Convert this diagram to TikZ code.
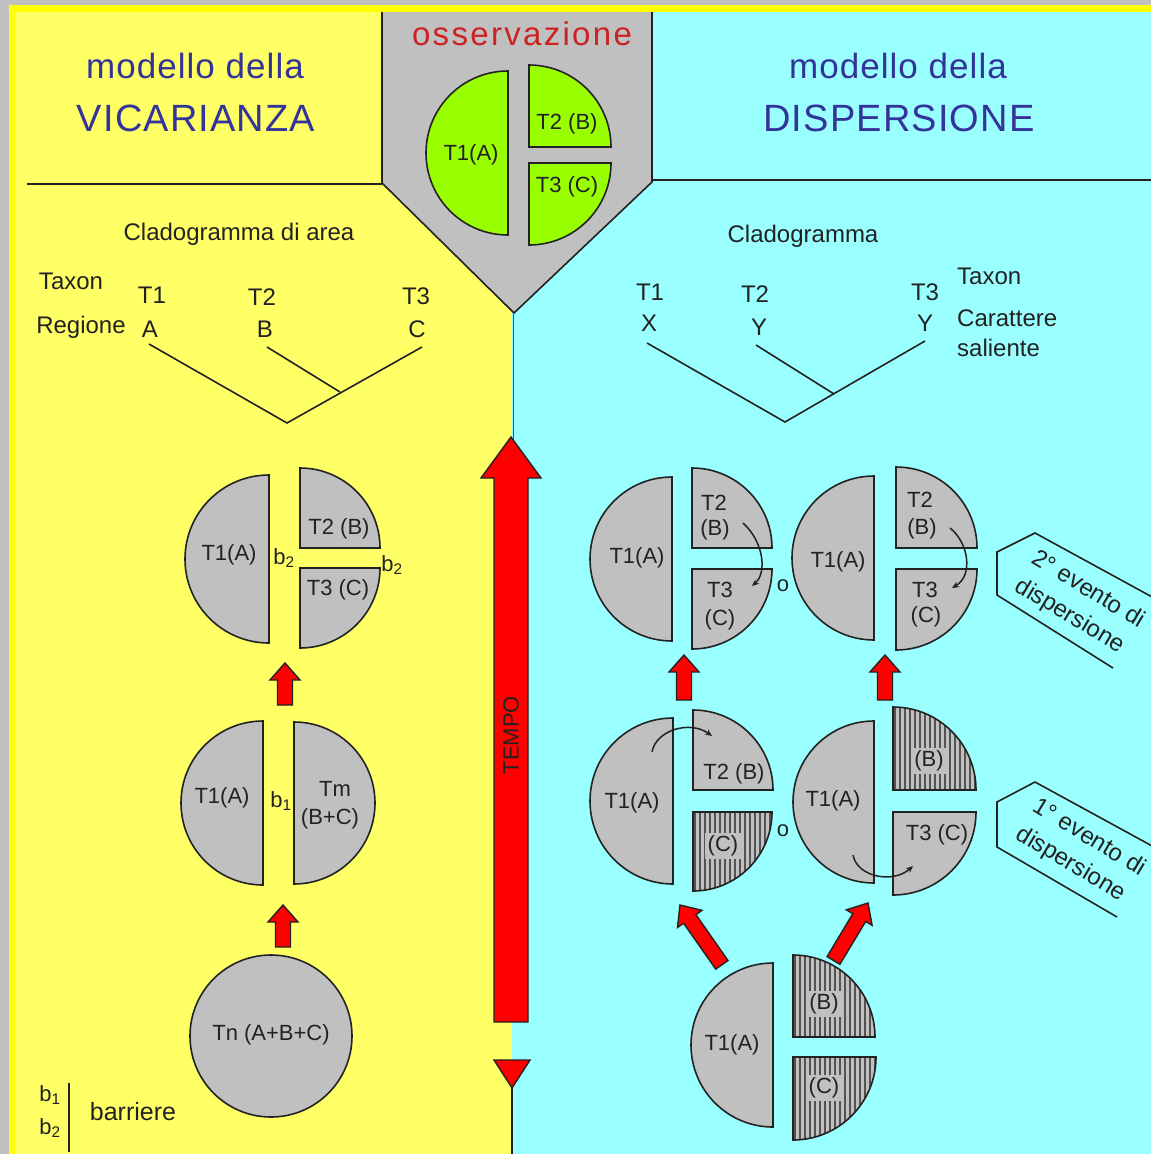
\documentclass[tikz,border=0pt]{standalone}
\usepackage{fontspec}
\setmainfont{Liberation Sans}
\newfontfamily\titlefont[LetterSpace=3]{Liberation Sans}
\newfontfamily\obsfont[LetterSpace=7]{Liberation Sans}
\usetikzlibrary{patterns.meta,arrows.meta}
\definecolor{paleY}{HTML}{FFFF66}
\definecolor{cyanB}{HTML}{99FFFF}
\definecolor{grayB}{HTML}{C0C0C0}
\definecolor{brightY}{HTML}{FFFF00}
\definecolor{greenO}{HTML}{99FF00}
\definecolor{titleB}{HTML}{333399}
\definecolor{obsR}{HTML}{CC2222}
\definecolor{inkD}{HTML}{222222}
\newcommand\semiL[4][piece]{\draw[#1] (#2,-#3+#4) arc (90:270:#4) -- cycle;}
\newcommand\semiR[4][piece]{\draw[#1] (#2,-#3+#4) arc (90:-90:#4) -- cycle;}
\newcommand\quadTR[4][piece]{\draw[#1] (#2,-#3) -- (#2,-#3+#4) arc (90:0:#4) -- cycle;}
\newcommand\quadBR[4][piece]{\draw[#1] (#2,-#3) -- (#2+#4,-#3) arc (0:-90:#4) -- cycle;}
\tikzset{pics/redarr/.style={code={\draw[redarrow] (0,0) -- (15,-17) -- (7.5,-17) -- (7.5,-#1) -- (-7.5,-#1) -- (-7.5,-17) -- (-15,-17) -- cycle;}}}
\begin{document}
\begin{tikzpicture}[x=1pt,y=1pt,
 edge/.style={draw=inkD, line width=1.6pt},
 piece/.style={draw=inkD, line width=1.6pt, fill=grayB},
 gpiece/.style={draw=inkD, line width=1.6pt, fill=greenO},
 hpiece/.style={preaction={fill=grayB}, pattern={Lines[angle=90,distance=5pt,line width=1.2pt]}, pattern color=gray!65!black, draw=inkD, line width=1.6pt},
 lbl/.style={font=\fontsize{22}{24}\selectfont, text=inkD, inner sep=1pt},
 hlbl/.style={lbl, fill=grayB, inner sep=3pt},
 clado/.style={font=\fontsize{24}{26}\selectfont, text=inkD, inner sep=1pt},
 title/.style={font=\titlefont\fontsize{35}{40}\selectfont, text=titleB, inner sep=0pt},
 titleC/.style={font=\titlefont\fontsize{38}{40}\selectfont, text=titleB, inner sep=0pt},
 obsstyle/.style={font=\obsfont\fontsize{33}{36}\selectfont, text=obsR, inner sep=0pt},
 branch/.style={draw=inkD, line width=1.6pt},
 redarrow/.style={draw=inkD, line width=1.4pt, fill=red},
 curv/.style={draw=inkD, line width=1.5pt, -{Stealth[length=7pt,width=6pt]}},
 calltext/.style={font=\fontsize{24}{32}\selectfont, text=inkD, inner sep=0pt, align=left},
]
\useasboundingbox (0,0) rectangle (1151,-1154);
\clip (0,0) rectangle (1151,-1154);
% background
\fill[grayB] (0,0) rectangle (1151,-1154);
\fill[brightY] (9,-5) rectangle (1151,-1154);
\fill[paleY] (15,-12) rectangle (512,-1154);
\fill[cyanB] (512,-12) rectangle (1151,-1154);
% observation pentagon
\fill[grayB] (382,-12) -- (652,-12) -- (652,-182) -- (514,-313) -- (382,-183) -- cycle;
\draw[edge] (382,-12) -- (382,-183) -- (514,-313) -- (652,-182) -- (652,-12);
\draw[gray!60!black, line width=1pt] (513,-313) -- (513,-440);
\draw[edge] (27,-184) -- (382,-184);
\draw[edge] (652,-180) -- (1151,-180);
% titles
\node[title, anchor=base] (vtitle1) at (195,-78) {modello della};
\node[titleC, anchor=base] (vtitle2) at (196,-131) {VICARIANZA};
\node[title, anchor=base] (dtitle1) at (898,-78) {modello della};
\node[titleC, anchor=base] (dtitle2) at (899,-131) {DISPERSIONE};
\node[obsstyle, anchor=base] (obs) at (522,-45) {osservazione};
% observed areas
\semiL[gpiece]{508}{153}{82}
\quadTR[gpiece]{529}{147}{82}
\quadBR[gpiece]{529}{163}{82}
\node[lbl] (oA) at (471,-155) {T1(A)};
\node[lbl] (oB) at (567,-124) {T2 (B)};
\node[lbl] (oC) at (567,-187) {T3 (C)};
% left cladogram
\node[clado] (cladoL) at (239,-234) {Cladogramma di area};
\node[clado] (taxL) at (71,-281) {Taxon};
\node[clado] (regL) at (81,-327) {Regione};
\node[clado] (t1L) at (152,-295) {T1};
\node[clado] (t2L) at (262,-297) {T2};
\node[clado] (t3L) at (416,-296) {T3};
\node[clado] (aL) at (150,-329) {A};
\node[clado] (bL) at (265,-329) {B};
\node[clado] (cL) at (417,-329) {C};
\coordinate (la) at (149,-344);
\coordinate (lb) at (267,-347);
\coordinate (lc) at (422,-347);
\coordinate (lj) at (340,-392);
\coordinate (lr) at (287,-423);
\draw[branch] (la) -- (lr) -- (lc);
\draw[branch] (lb) -- (lj);
% right cladogram
\node[clado] (cladoR) at (803,-236) {Cladogramma};
\node[clado] (t1R) at (650,-292) {T1};
\node[clado] (t2R) at (755,-294) {T2};
\node[clado] (t3R) at (925,-292) {T3};
\node[clado, anchor=west] (taxR) at (956,-276) {Taxon};
\node[clado] (xR) at (649,-323) {X};
\node[clado] (y1R) at (759,-327) {Y};
\node[clado] (y2R) at (925,-323) {Y};
\node[clado, anchor=west] (carR) at (956,-318) {Carattere};
\node[clado, anchor=west] (salR) at (956,-348) {saliente};
\coordinate (rx) at (647,-343);
\coordinate (ry1) at (756,-345);
\coordinate (ry2) at (925,-341);
\coordinate (rj) at (834,-394);
\coordinate (rr) at (785,-422);
\draw[branch] (rx) -- (rr) -- (ry2);
\draw[branch] (ry1) -- (rj);
% left: vicariance stages
\semiL{269}{559}{84}
\quadTR{300}{548}{80}
\quadBR{300}{568}{80}
\node[lbl] (v3a) at (229,-555) {T1(A)};
\node[lbl] (v3b) at (339,-529) {T2 (B)};
\node[lbl] (v3c) at (338,-590) {T3 (C)};
\node[lbl] (v3b2a) at (284,-558) {b\textsubscript{2}};
\node[lbl] (v3b2b) at (392,-565) {b\textsubscript{2}};
\semiL{263}{803}{82}
\semiR{294}{803}{81}
\node[lbl] (v2a) at (222,-798) {T1(A)};
\node[lbl] (v2b1) at (281,-801) {b\textsubscript{1}};
\node[lbl] (v2m) at (335,-789) {Tm};
\node[lbl] (v2bc) at (330,-819) {(B+C)};
\draw[piece] (271,-1036) circle (81);
\node[lbl] (v1) at (271,-1035) {Tn (A+B+C)};
\pic at (285,-663) {redarr=42};
\pic at (283,-905) {redarr=42};
% time arrow
\draw[redarrow] (511,-437) -- (541,-478) -- (528,-478) -- (528,-1022) -- (494,-1022) -- (494,-478) -- (481,-478) -- cycle;
\node[lbl, rotate=90] (tempo) at (511,-735) {TEMPO};
\draw[redarrow] (494,-1060) -- (530,-1060) -- (512,-1088) -- cycle;
\draw[edge] (512,-1088) -- (512,-1154);
% legend
\node[lbl] (lb1) at (50,-1095) {b\textsubscript{1}};
\node[lbl] (lb2) at (50,-1128) {b\textsubscript{2}};
\draw[edge] (69,-1083) -- (69,-1152);
\node[font=\fontsize{25}{27}\selectfont, text=inkD] (barr) at (133,-1112) {barriere};
% right: dispersion, top row
\semiL{672}{559}{82}
\quadTR{692}{548}{80}
\quadBR{692}{569}{80}
\node[lbl] (d1a) at (637,-558) {T1(A)};
\node[lbl] (d1b1) at (714,-503) {T2};
\node[lbl] (d1b2) at (715,-530) {(B)};
\node[lbl] (d1c1) at (720,-590) {T3};
\node[lbl] (d1c2) at (720,-620) {(C)};
\coordinate (c1s) at (743,-523);
\coordinate (c1e) at (752,-586);
\draw[curv] (c1s) .. controls (764,-542) and (767,-573) .. (c1e);
\node[lbl] (or1) at (783,-586) {o};
\semiL{874}{558}{82}
\quadTR{896}{548}{81}
\quadBR{896}{569}{81}
\node[lbl] (d2a) at (838,-562) {T1(A)};
\node[lbl] (d2b1) at (920,-500) {T2};
\node[lbl] (d2b2) at (922,-529) {(B)};
\node[lbl] (d2c1) at (925,-590) {T3};
\node[lbl] (d2c2) at (926,-617) {(C)};
\coordinate (c2s) at (950,-528);
\coordinate (c2e) at (952,-588);
\draw[curv] (c2s) .. controls (968,-542) and (974,-575) .. (c2e);
\pic at (684,-655) {redarr=45};
\pic at (885,-655) {redarr=45};
% right: bottom row
\semiL{673}{801}{83}
\quadTR{693}{790}{80}
\quadBR[hpiece]{693}{812}{79}
\node[lbl] (d3a) at (632,-803) {T1(A)};
\node[lbl] (d3b) at (734,-774) {T2 (B)};
\node[hlbl] (d3c) at (723,-846) {(C)};
\coordinate (c3s) at (652,-752);
\coordinate (c3e) at (712,-736);
\draw[curv] (c3s) .. controls (656,-730) and (690,-720) .. (c3e);
\node[lbl] (or2) at (783,-831) {o};
\semiL{874}{802}{81}
\quadTR[hpiece]{893}{790}{83}
\quadBR{893}{812}{83}
\node[lbl] (d4a) at (833,-801) {T1(A)};
\node[hlbl] (d4b) at (929,-761) {(B)};
\node[lbl] (d4c) at (937,-835) {T3 (C)};
\coordinate (c4s) at (853,-855);
\coordinate (c4e) at (913,-866);
\draw[curv] (c4s) .. controls (857,-877) and (893,-884) .. (c4e);
\pic[rotate=35] at (680,-905) {redarr=73};
\pic[rotate=-31] at (868,-903) {redarr=67};
% right: initial stage
\semiL{773}{1045}{82}
\quadTR[hpiece]{793}{1037}{82}
\quadBR[hpiece]{793}{1057}{83}
\node[lbl] (d5a) at (732,-1045) {T1(A)};
\node[hlbl] (d5b) at (824,-1004) {(B)};
\node[hlbl] (d5c) at (824,-1088) {(C)};
% callouts
\draw[edge] (1165,-604) -- (1035,-533) -- (997,-552) -- (997,-595) -- (1113,-668);
\node[calltext, rotate=-31, anchor=west] (ev2) at (1025,-571) {2° evento di\\dispersione};
\draw[edge] (1165,-853) -- (1035,-782) -- (997,-802) -- (997,-847) -- (1117,-917);
\node[calltext, rotate=-31, anchor=west] (ev1) at (1026,-819) {1° evento di\\dispersione};
\end{tikzpicture}
\end{document}
